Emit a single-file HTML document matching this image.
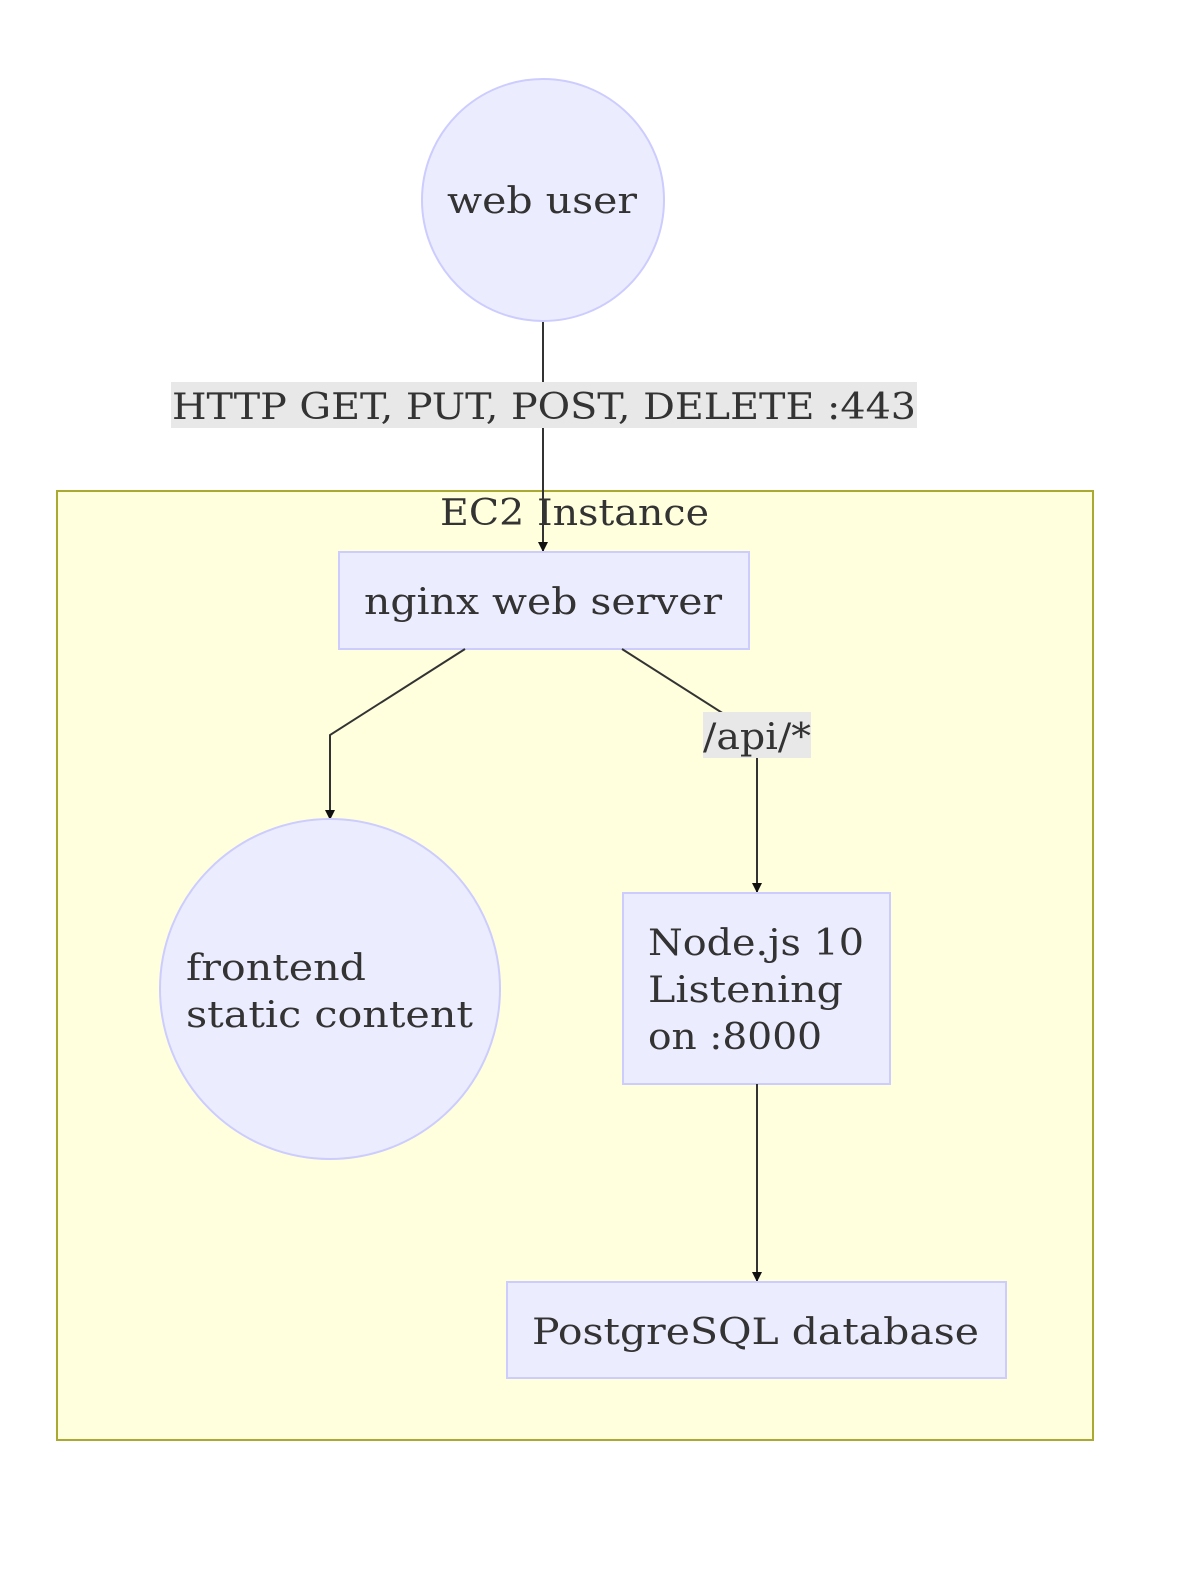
<!DOCTYPE html>
<html><head><meta charset="utf-8"><style>
html,body{margin:0;padding:0;background:#fff;overflow:hidden;width:1200px;height:1578px;}
svg{display:block;}
svg text{font-family:"DejaVu Serif","Liberation Serif",serif;font-size:36px;fill:#333;}
</style></head><body>
<svg width="1200" height="1578" viewBox="0 0 1200 1578" xmlns="http://www.w3.org/2000/svg">
<defs><marker id="a" markerWidth="10" markerHeight="10" refX="9" refY="5" orient="auto" markerUnits="userSpaceOnUse"><path d="M0,0 L10,5 L0,10 z" fill="#111"/></marker></defs>
<rect x="57" y="491" width="1036" height="949" fill="#ffffde" stroke="#aaaa33" stroke-width="2"/>
<text x="440" y="525" textLength="269" lengthAdjust="spacingAndGlyphs">EC2 Instance</text>
<circle cx="543" cy="200" r="121" fill="#ececff" stroke="#ccccff" stroke-width="2"/>
<text x="447" y="213" textLength="190" lengthAdjust="spacingAndGlyphs">web user</text>
<line x1="543" y1="322" x2="543" y2="551" stroke="#333" stroke-width="2" marker-end="url(#a)"/>
<rect x="171" y="382" width="746" height="46" fill="#e8e8e8"/>
<text x="172" y="419" textLength="744" lengthAdjust="spacingAndGlyphs">HTTP GET, PUT, POST, DELETE :443</text>
<rect x="339" y="552" width="410" height="97" fill="#ececff" stroke="#ccccff" stroke-width="2"/>
<text x="364" y="614" textLength="358" lengthAdjust="spacingAndGlyphs">nginx web server</text>
<polyline points="465,649 330,735 330,819" fill="none" stroke="#333" stroke-width="2" marker-end="url(#a)"/>
<polyline points="622,649 757,735 757,892" fill="none" stroke="#333" stroke-width="2" marker-end="url(#a)"/>
<rect x="703" y="712" width="108" height="46" fill="#e8e8e8"/>
<text x="703" y="749" textLength="108" lengthAdjust="spacingAndGlyphs">/api/*</text>
<circle cx="330" cy="989" r="170" fill="#ececff" stroke="#ccccff" stroke-width="2"/>
<text x="186" y="980" textLength="180" lengthAdjust="spacingAndGlyphs">frontend</text>
<text x="186" y="1027" textLength="287" lengthAdjust="spacingAndGlyphs">static content</text>
<rect x="623" y="893" width="267" height="191" fill="#ececff" stroke="#ccccff" stroke-width="2"/>
<text x="648" y="955" textLength="216" lengthAdjust="spacingAndGlyphs">Node.js 10</text>
<text x="648" y="1002" textLength="195" lengthAdjust="spacingAndGlyphs">Listening</text>
<text x="648" y="1049" textLength="174" lengthAdjust="spacingAndGlyphs">on :8000</text>
<line x1="757" y1="1084" x2="757" y2="1281" stroke="#333" stroke-width="2" marker-end="url(#a)"/>
<rect x="507" y="1282" width="499" height="96" fill="#ececff" stroke="#ccccff" stroke-width="2"/>
<text x="532" y="1344" textLength="447" lengthAdjust="spacingAndGlyphs">PostgreSQL database</text>
</svg>
</body></html>
